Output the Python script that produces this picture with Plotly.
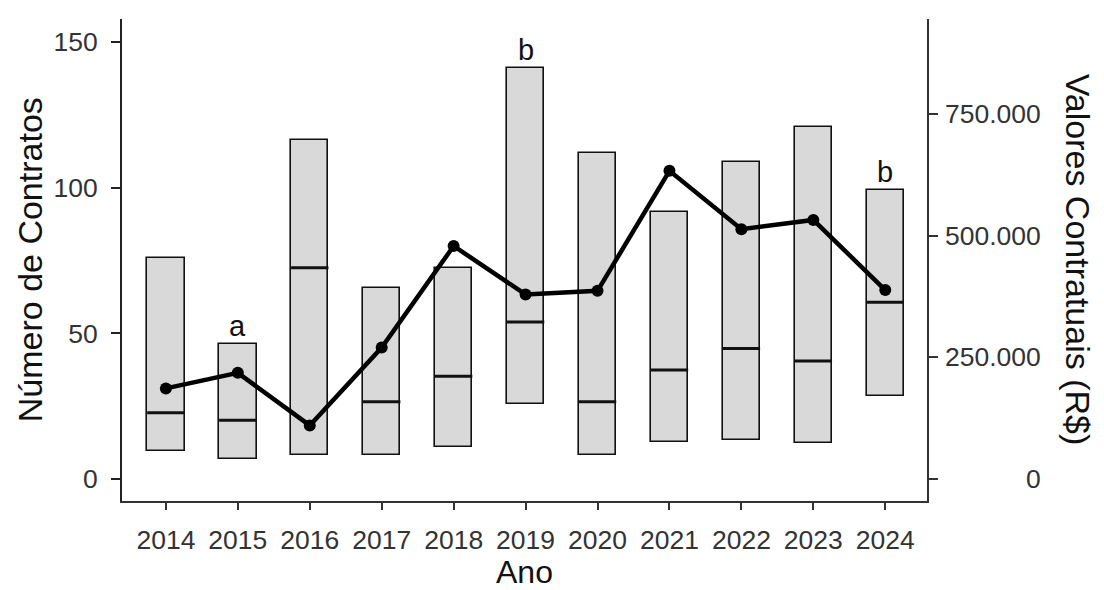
import plotly.graph_objects as go

anos = [2014, 2015, 2016, 2017, 2018, 2019, 2020, 2021, 2022, 2023, 2024]
contratos_min = [9.5, 7.0, 8.4, 8.4, 11.0, 25.6, 8.4, 12.7, 13.3, 12.2, 28.5]
contratos_mediana = [22.7, 20.2, 72.5, 26.5, 35.3, 53.9, 26.5, 37.4, 44.8, 40.5, 60.7]
contratos_max = [75.8, 46.5, 116.4, 65.4, 72.5, 141.1, 111.9, 91.7, 108.8, 120.9, 99.1]
valores = [186000, 218000, 110000, 270000, 478500, 379000, 386500, 633000, 513000, 532000, 388000]
letras = ["", "a", "", "", "", "b", "", "", "", "", "b"]

ticks_esq = [0, 50, 100, 150]
ticks_dir = [0, 250000, 500000, 750000]
ticks_dir_txt = ["0", "250.000", "500.000", "750.000"]

FONT = "Liberation Sans, Arial, sans-serif"
BAR_W = 0.52
TICK_SIZE = 26.5
TITLE_SIZE = 34

fig = go.Figure()

fig.add_trace(go.Bar(
    x=anos,
    y=[mx - mn for mx, mn in zip(contratos_max, contratos_min)],
    base=contratos_min,
    width=BAR_W,
    marker=dict(color="#d9d9d9", line=dict(color="#111111", width=1.6)),
    yaxis="y",
    showlegend=False,
    hoverinfo="skip",
))

# median lines
for a, m in zip(anos, contratos_mediana):
    fig.add_shape(type="line", xref="x", yref="y",
                  x0=a - BAR_W / 2, x1=a + BAR_W / 2, y0=m, y1=m,
                  line=dict(color="#111111", width=3), layer="above")

fig.add_trace(go.Scatter(
    x=anos, y=valores, yaxis="y2", mode="lines+markers",
    line=dict(color="#000000", width=4.5),
    marker=dict(color="#000000", size=12),
    showlegend=False,
))

annotations = []
for a, mx, l in zip(anos, contratos_max, letras):
    if l:
        annotations.append(dict(x=a, y=mx, xref="x", yref="y", text=l,
                                showarrow=False, yanchor="bottom", yshift=0,
                                font=dict(family=FONT, size=29, color="#111111")))

for v, t in zip(ticks_dir, ticks_dir_txt):
    annotations.append(dict(x=1, y=v, xref="paper", yref="y2", text=t,
                            showarrow=False, xanchor="right", yanchor="middle", xshift=116,
                            font=dict(family=FONT, size=TICK_SIZE, color="#333333")))

annotations.append(dict(x=-0.114, y=0.5, xref="paper", yref="paper",
                        text="Número de Contratos", textangle=-90,
                        xanchor="center", yanchor="middle",
                        showarrow=False, font=dict(family=FONT, size=TITLE_SIZE, color="#111111")))
annotations.append(dict(x=1.188, y=0.5, xref="paper", yref="paper",
                        text="Valores Contratuais (R$)", textangle=90,
                        xanchor="center", yanchor="middle",
                        showarrow=False, font=dict(family=FONT, size=TITLE_SIZE, color="#111111")))
annotations.append(dict(x=0.5, y=-0.148, xref="paper", yref="paper",
                        text="Ano", showarrow=False, xanchor="center", yanchor="middle",
                        font=dict(family=FONT, size=32, color="#111111")))

fig.update_layout(
    width=1104, height=590, autosize=False,
    margin=dict(l=122, r=177, t=19, b=89, pad=0),
    paper_bgcolor="white", plot_bgcolor="white",
    font=dict(family=FONT, size=TICK_SIZE, color="#333333"),
    bargap=0,
    xaxis=dict(range=[2013.39, 2024.58], tickvals=anos, ticktext=[str(a) for a in anos],
               showline=True, linecolor="#333333", linewidth=2,
               ticks="outside", ticklen=7, tickwidth=2, tickcolor="#333333",
               ticklabelstandoff=7,
               showgrid=False, zeroline=False,
               tickfont=dict(family=FONT, size=TICK_SIZE, color="#333333")),
    yaxis=dict(range=[-7.56, 157.9], tickvals=ticks_esq,
               showline=True, linecolor="#222222", linewidth=2,
               ticks="outside", ticklen=9, tickwidth=2, tickcolor="#222222",
               ticklabelstandoff=8,
               showgrid=False, zeroline=False,
               tickfont=dict(family=FONT, size=TICK_SIZE, color="#333333")),
    yaxis2=dict(range=[-45200, 944700], tickvals=ticks_dir, overlaying="y", side="right",
                showline=True, linecolor="#333333", linewidth=2,
                ticks="outside", ticklen=9, tickwidth=2, tickcolor="#333333",
                showticklabels=False, showgrid=False, zeroline=False),
    annotations=annotations,
)

fig.write_html("out.html")
